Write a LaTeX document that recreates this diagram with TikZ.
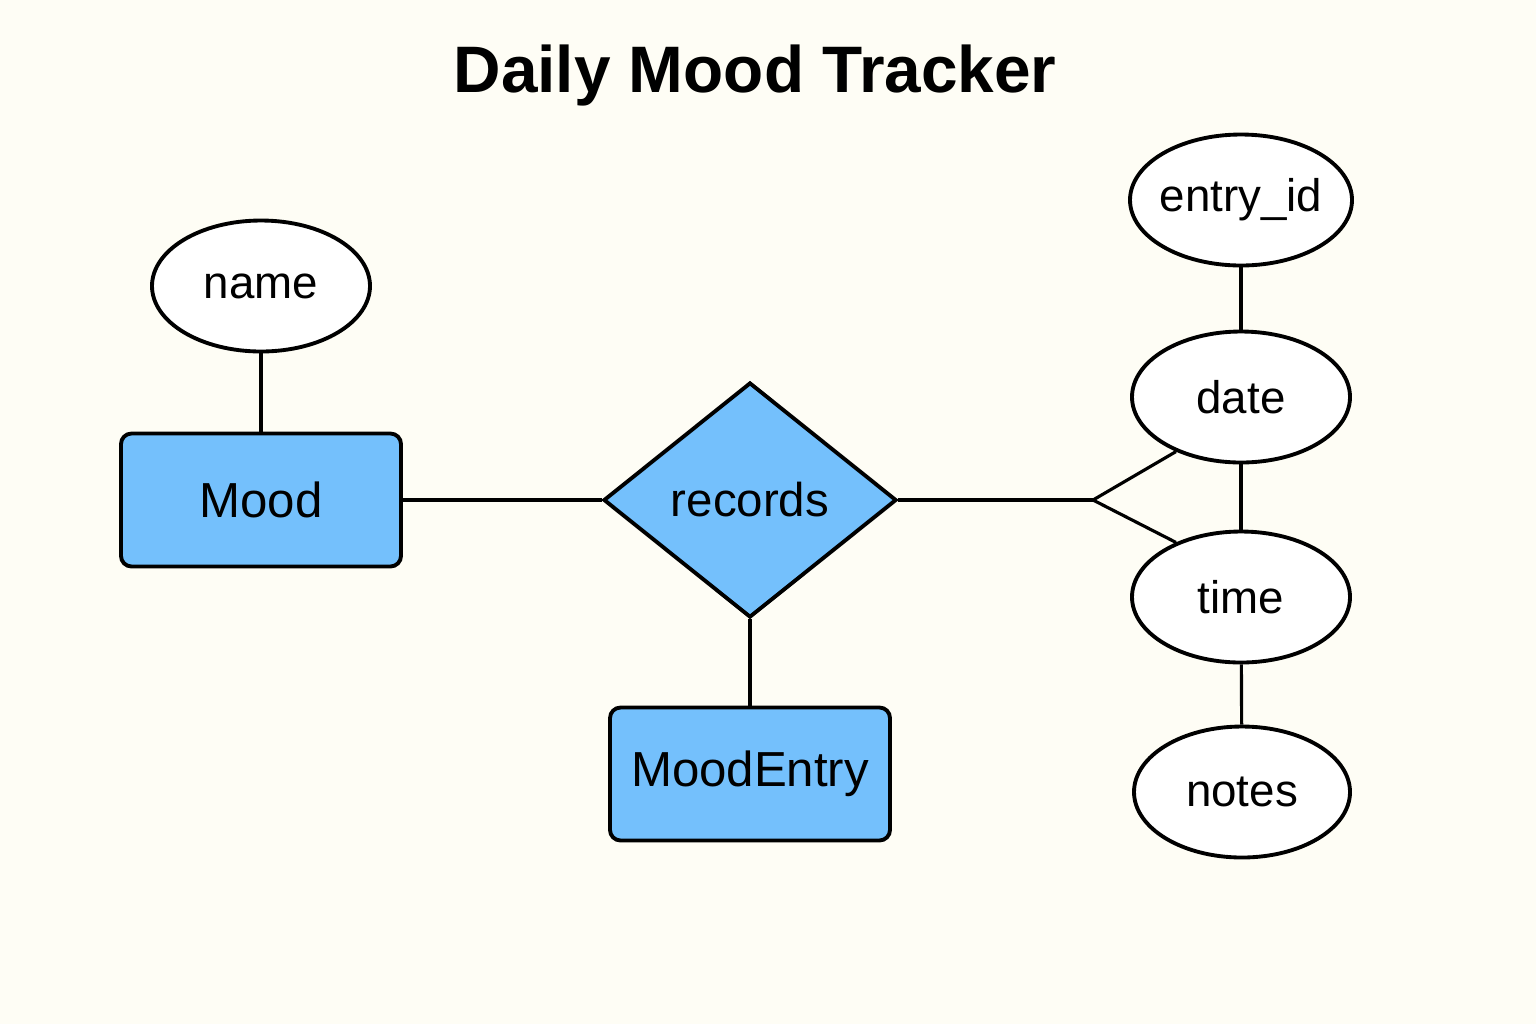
\documentclass[tikz,border=0pt]{standalone}
\usepackage{fontspec}
\setmainfont{Liberation Sans}
\usepackage{xcolor}
\usetikzlibrary{shapes.geometric}

\definecolor{paper}{HTML}{FEFDF5}
\definecolor{entblue}{HTML}{74C0FC}

\tikzset{
  entity/.style={draw, line width=1.1pt, rounded corners=3pt, fill=entblue,
    minimum width=2.8cm, minimum height=1.33cm, font=\fontsize{14}{17}\selectfont},
  relation/.style={diamond, draw, line width=1.1pt, fill=entblue, inner sep=0pt,
    minimum width=2.93cm, minimum height=2.35cm, font=\fontsize{13.5}{16}\selectfont},
  attrib/.style={ellipse, draw, line width=1.1pt, fill=white, inner sep=0pt,
    minimum width=2.18cm, minimum height=1.31cm, font=\fontsize{13}{16}\selectfont},
  link/.style={line width=0.9pt}
}

\begin{document}
\begin{tikzpicture}
                % background and page size
                \fill[paper] (0,0) rectangle (15.36,-10.24);
                \useasboundingbox (0,0) rectangle (15.36,-10.24);

                % Title
                \node[font=\fontsize{18.7}{22}\selectfont\bfseries] (title) at (7.55,-0.75) {Daily Mood Tracker};

                % Entities and relationship
                \node[entity] (mood) at (2.61,-5.00) {Mood};
                \node[relation] (records) at (7.50,-5.00) {records};
                \node[entity] (entry) at (7.50,-7.74) {MoodEntry};

                % Attributes
                \node[attrib] (name) at (2.61,-2.86) {name};
                \node[attrib, minimum width=2.22cm, inner xsep=-8pt] (entryid) at (12.41,-2.00) {entry\_id};
                \node[attrib] (date) at (12.41,-3.97) {date};
                \node[attrib] (time) at (12.41,-5.97) {time};
                \node[attrib, minimum width=2.16cm] (notes) at (12.42,-7.92) {notes};

                % Connectors
                \draw[link] (name) -- (mood);
                \draw[link] (mood) -- (records);
                \draw[link] (records) -- (entry);
                \draw[link] (entryid) -- (date);
                \draw[link] (date) -- (time);
                \draw[link] (time) -- (notes);

                % Crow's foot to date and time
                \coordinate (fork) at (10.93,-5.00);
                \draw[link] (records.east) -- (fork);
                \draw[link] (fork) -- (date.220);
                \draw[link] (fork) -- (time.140);
            \end{tikzpicture}
\end{document}
